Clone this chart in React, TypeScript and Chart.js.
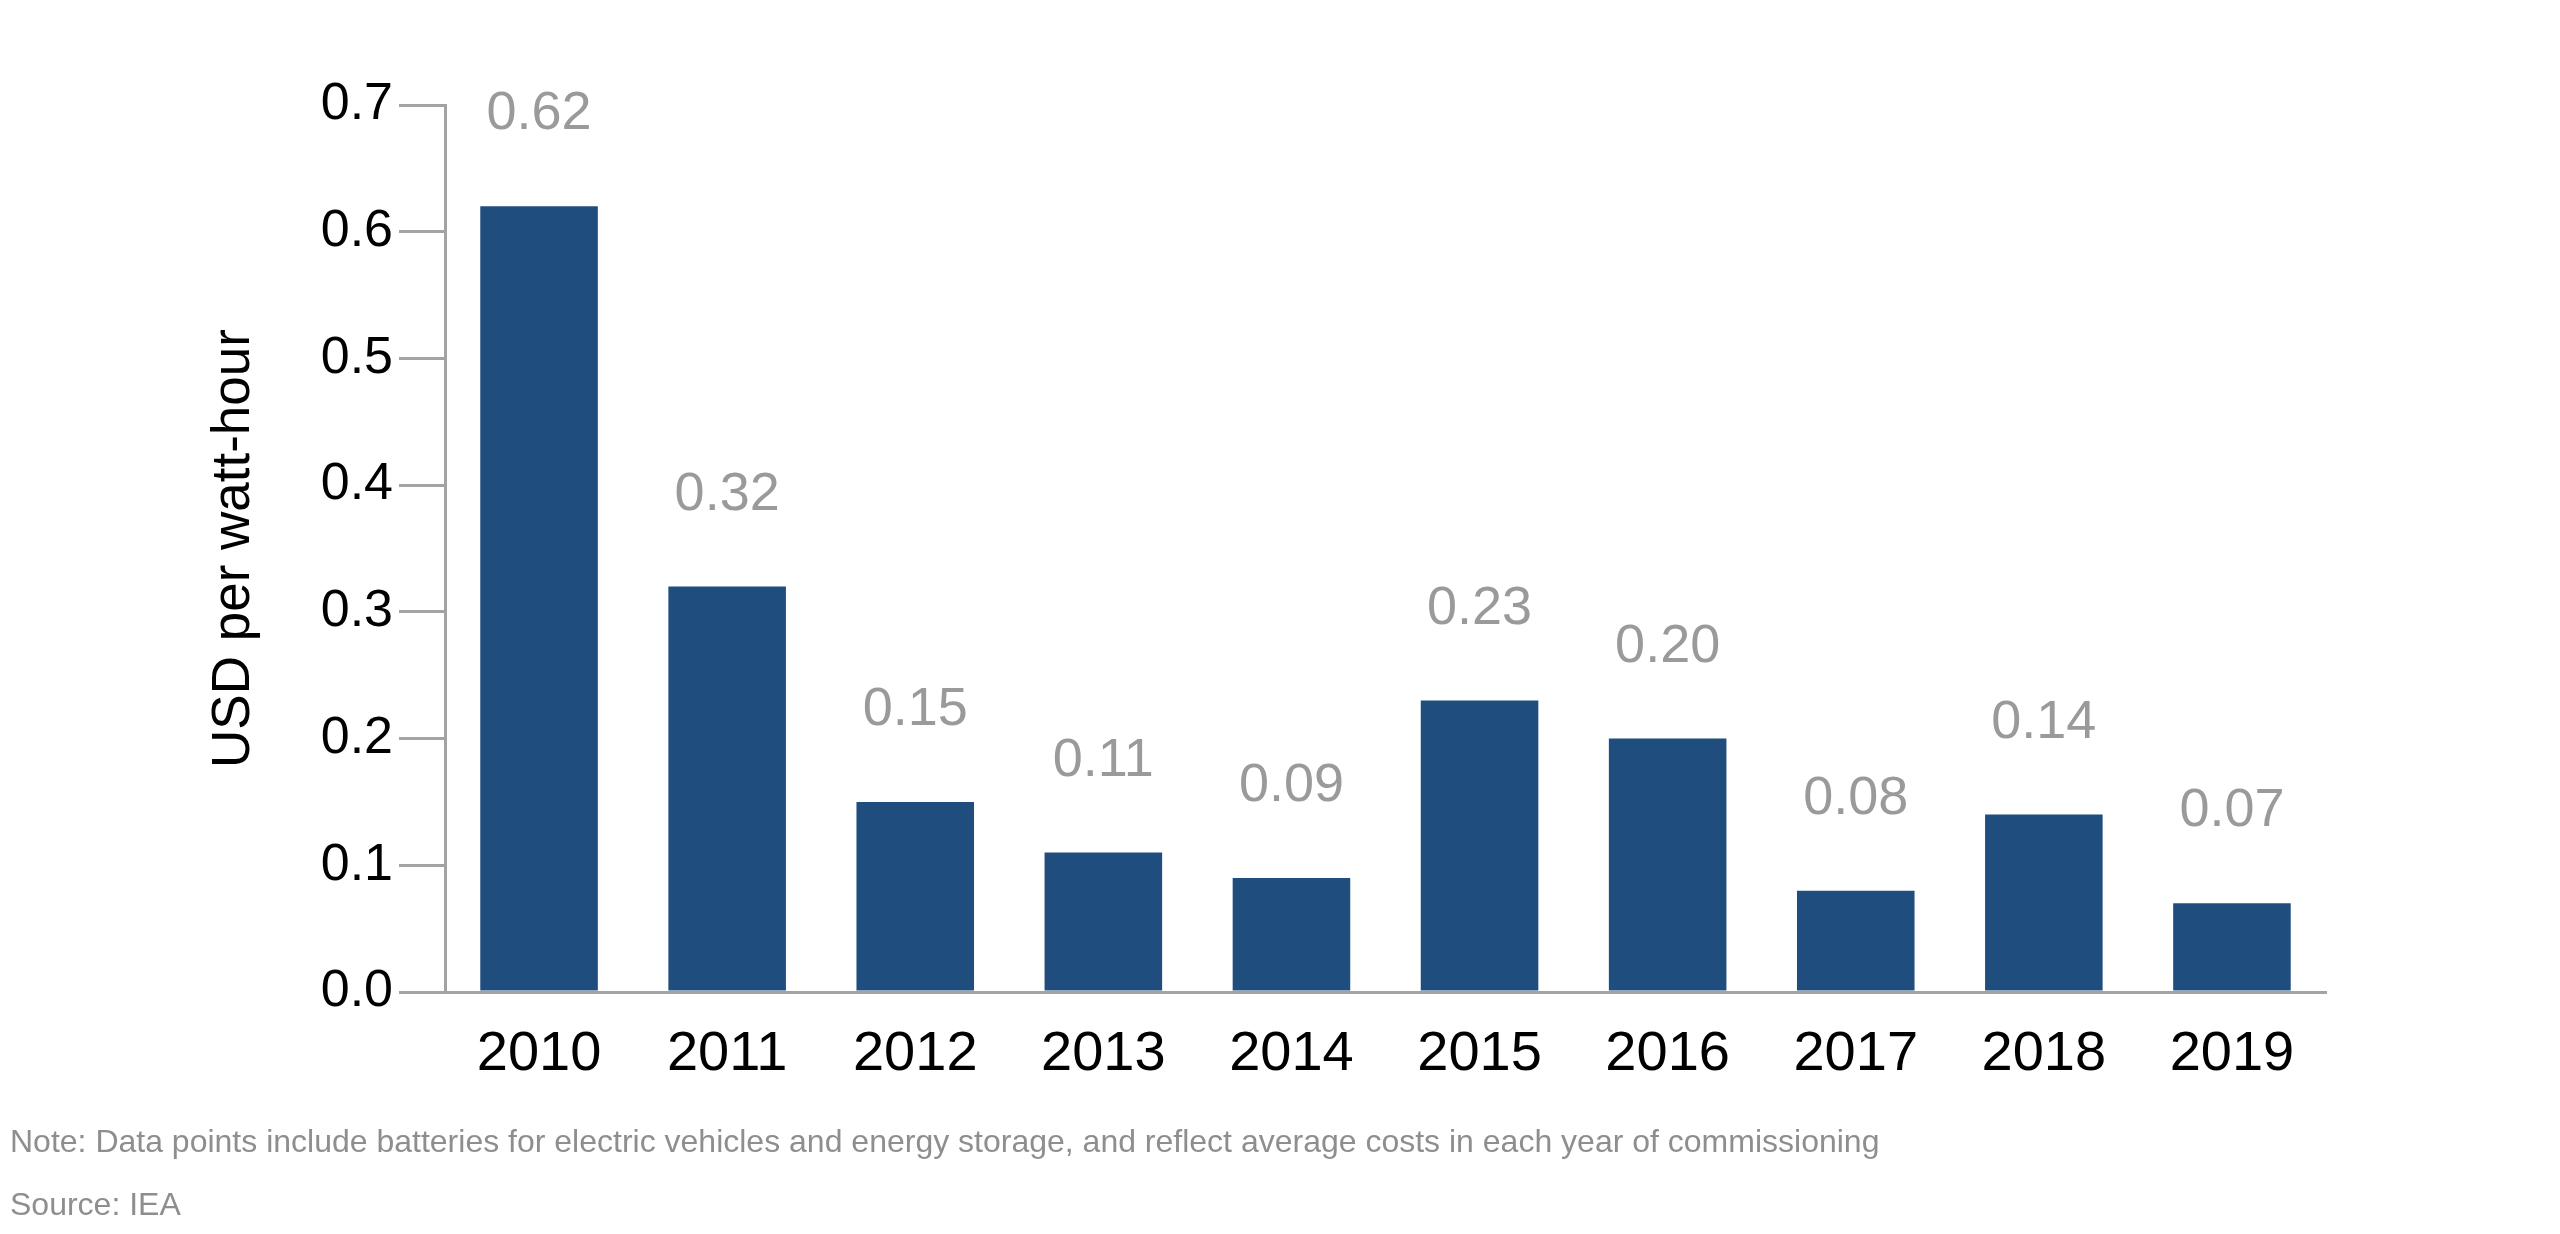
import React, { useEffect, useRef } from "react";
import { Chart, registerables } from "chart.js";

Chart.register(...registerables);

const years = ["2010", "2011", "2012", "2013", "2014", "2015", "2016", "2017", "2018", "2019"];
const costs = [0.62, 0.32, 0.15, 0.11, 0.09, 0.23, 0.2, 0.08, 0.14, 0.07];
const yMin = 0;
const yMax = 0.7;
const yStep = 0.1;
const yAxisTitle = "USD per watt-hour";
const noteText =
  "Note: Data points include batteries for electric vehicles and energy storage, and reflect average costs in each year of commissioning";
const sourceText = "Source: IEA";

const FONT = '"Liberation Sans", Arial, sans-serif';
const BAR_COLOR = "#1f4e7e";
const AXIS_COLOR = "#a3a3a3";
const LABEL_GRAY = "#9a9a9a";
const NOTE_GRAY = "#8e8e8e";

const valueLabels = {
  id: "valueLabels",
  afterDatasetsDraw(chart: any) {
    const ctx = chart.ctx;
    const meta = chart.getDatasetMeta(0);
    ctx.save();
    ctx.font = `54px ${FONT}`;
    ctx.fillStyle = LABEL_GRAY;
    ctx.textAlign = "center";
    ctx.textBaseline = "alphabetic";
    meta.data.forEach((bar: any, i: number) => {
      ctx.fillText(costs[i].toFixed(2), bar.x, bar.y - 77);
    });
    ctx.restore();
  },
};

export default function App() {
  const canvasRef = useRef<HTMLCanvasElement | null>(null);

  useEffect(() => {
    if (!canvasRef.current) return;
    const chart = new Chart(canvasRef.current, {
      type: "bar",
      data: {
        labels: years,
        datasets: [
          {
            data: costs,
            backgroundColor: BAR_COLOR,
            borderWidth: 0,
            categoryPercentage: 1,
            barPercentage: 0.625,
          },
        ],
      },
      options: {
        animation: false,
        responsive: false,
        devicePixelRatio: 1,
        layout: { padding: { left: 0, right: 234, top: 105, bottom: 0 } },
        plugins: {
          legend: { display: false },
          tooltip: { enabled: false },
        },
        scales: {
          x: {
            grid: { display: true, drawOnChartArea: false, drawTicks: false },
            border: { display: true, color: AXIS_COLOR, width: 3 },
            ticks: {
              color: "#000000",
              font: { family: FONT, size: 56 },
              padding: 29,
            },
            afterFit: (s: any) => {
              s.height = 242;
            },
          },
          y: {
            min: yMin,
            max: yMax,
            ticks: {
              stepSize: yStep,
              color: "#000000",
              font: { family: FONT, size: 52 },
              padding: 6,
              callback: (v: any) => Number(v).toFixed(1),
            },
            grid: {
              drawOnChartArea: false,
              drawTicks: true,
              tickLength: 46,
              color: AXIS_COLOR,
              lineWidth: 3,
            },
            border: { display: true, color: AXIS_COLOR, width: 3 },
            title: {
              display: true,
              text: yAxisTitle,
              color: "#000000",
              font: { family: FONT, size: 53 },
              padding: { top: 203, bottom: 0 },
            },
            afterFit: (s: any) => {
              s.width = 445;
            },
          },
        },
      },
      plugins: [valueLabels],
    });
    return () => chart.destroy();
  }, []);

  return (
    <div
      style={{
        position: "absolute",
        left: 0,
        top: 0,
        width: 2560,
        height: 1234,
        background: "#ffffff",
        overflow: "hidden",
      }}
    >
      <canvas ref={canvasRef} width={2560} height={1234} style={{ display: "block" }} />
      <div
        style={{
          position: "absolute",
          left: 10,
          top: 1125,
          fontFamily: FONT,
          fontSize: 32,
          lineHeight: "32px",
          color: NOTE_GRAY,
          whiteSpace: "nowrap",
        }}
      >
        {noteText}
      </div>
      <div
        style={{
          position: "absolute",
          left: 10,
          top: 1188,
          fontFamily: FONT,
          fontSize: 32,
          lineHeight: "32px",
          color: NOTE_GRAY,
          whiteSpace: "nowrap",
        }}
      >
        {sourceText}
      </div>
    </div>
  );
}
